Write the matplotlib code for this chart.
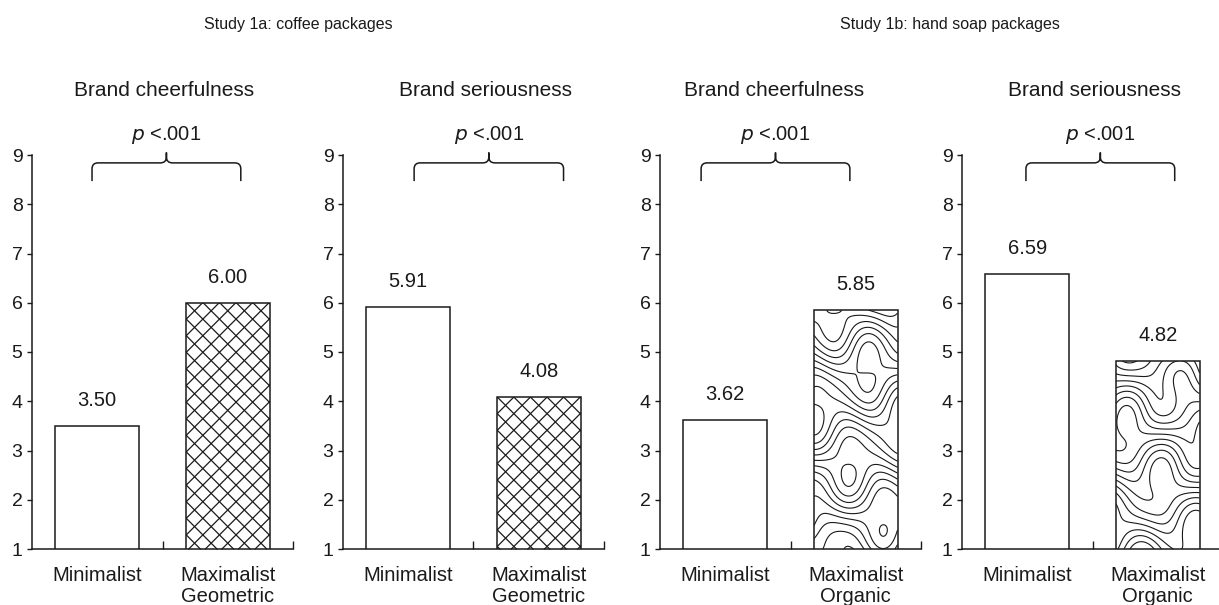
import numpy as np
import matplotlib.pyplot as plt
from matplotlib.path import Path
from matplotlib.patches import PathPatch

plt.rcParams['font.family'] = ['Liberation Sans', 'DejaVu Sans']
ink = '#1a1a1a'

# data
study_titles = ['Study 1a: coffee packages', 'Study 1b: hand soap packages']
panel_titles = ['Brand cheerfulness', 'Brand seriousness',
                'Brand cheerfulness', 'Brand seriousness']
cat_labels = [['Minimalist', 'Maximalist\nGeometric'],
              ['Minimalist', 'Maximalist\nGeometric'],
              ['Minimalist', 'Maximalist\nOrganic'],
              ['Minimalist', 'Maximalist\nOrganic']]
means = [[3.50, 6.00], [5.91, 4.08], [3.62, 5.85], [6.59, 4.82]]
p_text = ['<.001', '<.001', '<.001', '<.001']
textures = ['geometric', 'geometric', 'organic', 'organic']
# brace spans (data x), one pair per panel
brace_x = [(0.46, 1.60), (0.545, 1.69), (0.315, 1.455), (0.49, 1.63)]

W, H = 1219, 605
fig = plt.figure(figsize=(W / 100, H / 100), dpi=100)
lefts = [32, 343, 660, 962]
ax_w, ax_b, ax_h = 261, 549, 394
title_x = [164, 485, 774, 1094]

px_x = 130.5   # pixels per x unit
px_y = ax_h / 8.0


def brace(ax, x0, x1):
    yl, yh, yt = 8.47, 8.84, 9.05
    rx, ry = 6 / px_x, 6 / px_y
    xc = (x0 + x1) / 2
    verts = [(x0, yl), (x0, yh - ry), (x0, yh), (x0 + rx, yh),
             (xc - rx, yh), (xc, yh), (xc, yh + ry), (xc, yt),
             (xc, yt), (xc, yh + ry), (xc, yh), (xc + rx, yh),
             (x1 - rx, yh), (x1, yh), (x1, yh - ry), (x1, yl)]
    codes = [Path.MOVETO, Path.LINETO, Path.CURVE3, Path.CURVE3,
             Path.LINETO, Path.CURVE3, Path.CURVE3, Path.LINETO,
             Path.MOVETO, Path.LINETO, Path.CURVE3, Path.CURVE3,
             Path.LINETO, Path.CURVE3, Path.CURVE3, Path.LINETO]
    ax.add_patch(PathPatch(Path(verts, codes), fill=False, lw=1.1,
                           ec=ink, clip_on=False))
    return xc


def crosshatch(ax, bar, step=16.6):
    # diagonal lattice in pixel units, clipped to the bar
    x0 = bar.get_x()
    wpx = bar.get_width() * px_x
    hpx = (bar.get_height() - 1) * px_y
    span = wpx + hpx
    for k in np.arange(-hpx, wpx + hpx, step):
        for uu in (np.array([k, k + span]), np.array([wpx - k, wpx - k - span])):
            vv = np.array([0, span])
            ln, = ax.plot(x0 + uu / px_x, 1 + vv / px_y, color=ink,
                          lw=0.9, zorder=4)
            ln.set_clip_path(bar)


def organic(ax, bar, shift):
    # wavy contour texture clipped to the bar
    x0 = bar.get_x()
    x1 = x0 + bar.get_width()
    y1 = bar.get_height()
    xs = np.linspace(x0, x1, 250)
    ys = np.linspace(1, y1, 500)
    X, Y = np.meshgrid(xs, ys)
    u = (X - x0) * px_x
    v = (Y - 1) * px_y
    phase = (v / 4.1 + 3.4 * np.sin(u / 12 + v / 19 + shift)
             + 2.2 * np.cos(v / 13 - u / 16 + 2 * shift)
             + 1.2 * np.sin(u / 8 - v / 29 + 3 * shift))
    cs = ax.contour(X, Y, np.sin(phase), levels=[0.0], colors=ink,
                    linewidths=0.8, zorder=4)
    cs.set_clip_path(bar)


for i in range(4):
    ax = fig.add_axes([lefts[i] / W, (H - ax_b) / H, ax_w / W, ax_h / H])
    vals = means[i]
    for j in range(2):
        b = ax.bar(0.5 + j, vals[j], width=0.64, color='white',
                   edgecolor=ink if j == 0 else 'none', lw=1.1, zorder=3)[0]
        if j == 1:
            if textures[i] == 'geometric':
                crosshatch(ax, b)
            else:
                organic(ax, b, 0.9 * i)
            ax.bar(1.5, vals[1], width=0.64, fill=False, edgecolor=ink,
                   lw=1.1, zorder=5)
        ax.text(0.5 + j, vals[j] + 0.52, '%.2f' % vals[j], ha='center',
                va='center', fontsize=14.5, color=ink)
    ax.set_xlim(0, 2)
    ax.set_ylim(1, 9)
    ax.set_yticks(range(1, 10))
    ax.set_xticks([0.5, 1.5])
    ax.set_xticklabels(cat_labels[i], fontsize=14.5, color=ink,
                       linespacing=1.15)
    ax.set_xticks([1, 2], minor=True)
    ax.tick_params(axis='x', which='major', length=0, pad=12)
    ax.tick_params(axis='x', which='minor', direction='in', length=5.5,
                   width=1, color=ink)
    ax.tick_params(axis='y', length=3.8, width=1, pad=3, labelsize=14,
                   color=ink, labelcolor=ink)
    for s in ['top', 'right']:
        ax.spines[s].set_visible(False)
    for s in ['left', 'bottom']:
        ax.spines[s].set_linewidth(1.1)
        ax.spines[s].set_color(ink)
        ax.spines[s].set_zorder(6)
    xc = brace(ax, *brace_x[i])
    ax.text(xc, 9.41, r'$p$ ' + p_text[i], ha='center', va='center',
            fontsize=14.5, color=ink, math_fontfamily='dejavusans')
    fig.text(title_x[i] / W, 1 - 90 / H, panel_titles[i], ha='center',
             va='center', fontsize=15, color=ink)

fig.text(298 / W, 1 - 25 / H, study_titles[0], ha='center', va='center',
         fontsize=11.5, color=ink)
fig.text(950 / W, 1 - 25 / H, study_titles[1], ha='center', va='center',
         fontsize=11.5, color=ink)

fig.savefig('out.png', dpi=100)
